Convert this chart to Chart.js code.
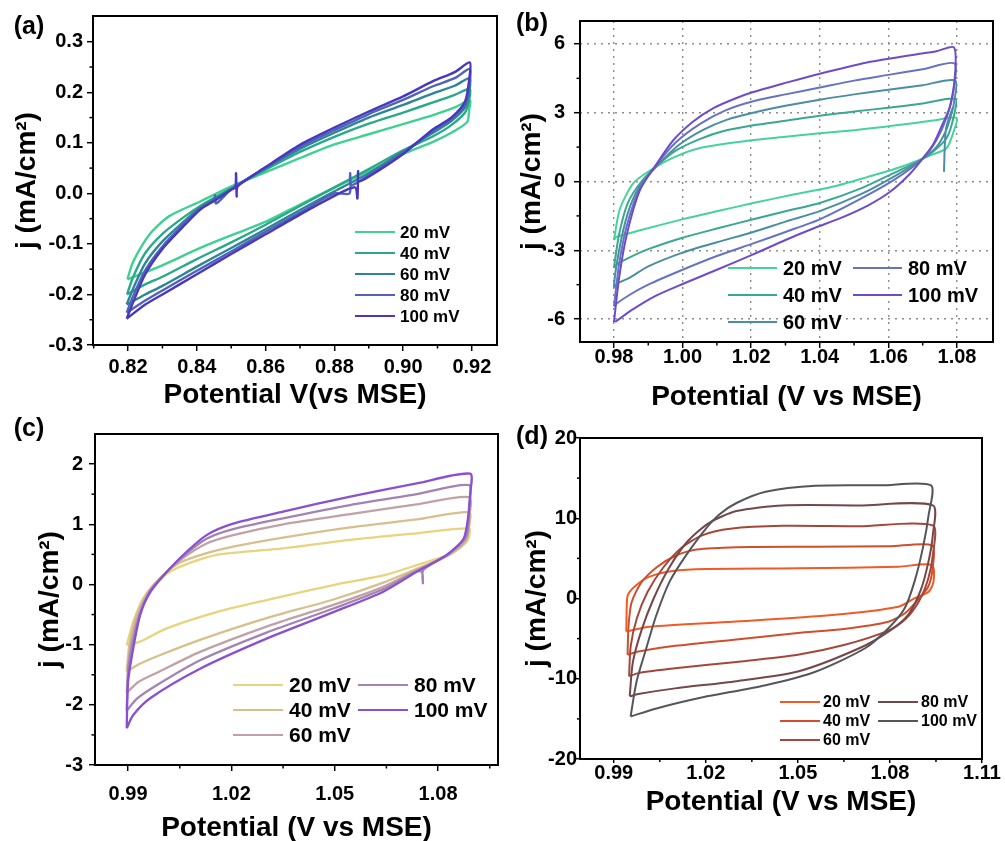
<!DOCTYPE html>
<html>
<head>
<meta charset="utf-8">
<script src="https://cdn.jsdelivr.net/npm/chart.js@4.4.1/dist/chart.umd.min.js"></script>
<style>
html, body { margin: 0; padding: 0; background: #fff; overflow: hidden; }
#wrap { position: relative; width: 1005px; height: 841px; overflow: hidden; }
#wrap canvas { position: absolute; }
</style>
</head>
<body>
<div id="wrap">
	<canvas id="cvA" width="500" height="415" style="left:0;top:0"></canvas>
	<canvas id="cvB" width="505" height="415" style="left:500px;top:0"></canvas>
	<canvas id="cvC" width="500" height="426" style="left:0;top:415px"></canvas>
	<canvas id="cvD" width="507" height="426" style="left:498px;top:415px"></canvas>
</div>
<script>
// scan rates shared by all four panels
const scanRates = ['20 mV', '40 mV', '60 mV', '80 mV', '100 mV'];

// ---- panel (a): [potential V, j mA/cm2] ----
const cvA20 = [[0.8198,-0.170],[0.8215,-0.135],[0.8264,-0.080],[0.8320,-0.045],[0.8410,-0.016],[0.8500,0.014],[0.8604,0.043],[0.8700,0.070],[0.8796,0.096],[0.8900,0.117],[0.8990,0.135],[0.9087,0.155],[0.9150,0.170],[0.9194,0.184],[0.9192,0.165],[0.9186,0.141],[0.9140,0.120],[0.9087,0.102],[0.9000,0.078],[0.8940,0.057],[0.8796,0.010],[0.8700,-0.022],[0.8604,-0.055],[0.8500,-0.083],[0.8410,-0.108],[0.8284,-0.147],[0.8198,-0.170]];
const cvA40 = [[0.8197,-0.200],[0.8215,-0.165],[0.8250,-0.118],[0.8300,-0.080],[0.8360,-0.048],[0.8410,-0.025],[0.8500,0.010],[0.8600,0.047],[0.8700,0.082],[0.8800,0.112],[0.8900,0.138],[0.9000,0.160],[0.9087,0.180],[0.9150,0.195],[0.9194,0.207],[0.9192,0.185],[0.9180,0.160],[0.9140,0.135],[0.9087,0.113],[0.9000,0.085],[0.8900,0.048],[0.8800,0.012],[0.8700,-0.025],[0.8600,-0.062],[0.8500,-0.097],[0.8400,-0.130],[0.8300,-0.165],[0.8250,-0.180],[0.8197,-0.200]];
const cvA60 = [[0.8196,-0.220],[0.8215,-0.188],[0.8250,-0.138],[0.8300,-0.095],[0.8360,-0.057],[0.8410,-0.028],[0.8500,0.009],[0.8600,0.050],[0.8700,0.088],[0.8800,0.120],[0.8900,0.150],[0.9000,0.175],[0.9087,0.198],[0.9150,0.213],[0.9194,0.228],[0.9192,0.200],[0.9180,0.170],[0.9140,0.143],[0.9087,0.120],[0.9000,0.083],[0.8900,0.040],[0.8800,0.004],[0.8700,-0.033],[0.8600,-0.071],[0.8500,-0.108],[0.8400,-0.145],[0.8300,-0.183],[0.8250,-0.200],[0.8196,-0.220]];
const cvA80 = [[0.8196,-0.236],[0.8215,-0.203],[0.8250,-0.152],[0.8300,-0.105],[0.8360,-0.062],[0.8410,-0.030],[0.8450,-0.014],[0.8453,-0.004],[0.8456,-0.020],[0.8500,0.008],[0.8600,0.051],[0.8700,0.092],[0.8800,0.125],[0.8900,0.157],[0.9000,0.185],[0.9087,0.212],[0.9150,0.228],[0.9194,0.246],[0.9192,0.212],[0.9180,0.176],[0.9140,0.147],[0.9087,0.124],[0.9000,0.080],[0.8900,0.036],[0.8848,0.016],[0.8846,0.040],[0.8844,0.000],[0.8800,0.000],[0.8700,-0.038],[0.8600,-0.076],[0.8500,-0.115],[0.8400,-0.153],[0.8300,-0.192],[0.8250,-0.212],[0.8196,-0.236]];
const cvA100 = [[0.8196,-0.248],[0.8215,-0.215],[0.8250,-0.160],[0.8300,-0.110],[0.8360,-0.066],[0.8410,-0.032],[0.8450,-0.015],[0.8500,0.007],[0.8512,0.012],[0.8514,0.040],[0.8516,-0.006],[0.8519,0.014],[0.8600,0.052],[0.8700,0.096],[0.8800,0.130],[0.8900,0.162],[0.9000,0.192],[0.9087,0.222],[0.9150,0.240],[0.9194,0.259],[0.9192,0.225],[0.9180,0.182],[0.9140,0.150],[0.9087,0.127],[0.9000,0.078],[0.8900,0.033],[0.8871,0.024],[0.8869,0.044],[0.8867,-0.010],[0.8860,0.012],[0.8800,-0.005],[0.8700,-0.042],[0.8600,-0.081],[0.8500,-0.120],[0.8400,-0.160],[0.8300,-0.200],[0.8250,-0.220],[0.8196,-0.248]];
const aXTicks = [0.82, 0.84, 0.86, 0.88, 0.90, 0.92];
const aXMinor = [0.81, 0.83, 0.85, 0.87, 0.89, 0.91];
const aYTicks = [-0.3, -0.2, -0.1, 0, 0.1, 0.2, 0.3];
const aYMinor = [-0.25, -0.15, -0.05, 0.05, 0.15, 0.25];

// ---- panel (b) ----
const cvB20 = [[0.9800,-2.55],[0.9817,-1.21],[0.9856,-0.08],[0.9905,0.48],[0.9973,1.04],[1.0051,1.46],[1.0206,1.81],[1.0300,1.95],[1.0400,2.10],[1.0500,2.24],[1.0585,2.38],[1.0660,2.52],[1.0730,2.66],[1.0799,2.77],[1.0790,2.17],[1.0770,1.46],[1.0730,1.18],[1.0634,0.62],[1.0540,0.20],[1.0440,-0.22],[1.0320,-0.58],[1.0206,-0.94],[1.0100,-1.30],[1.0002,-1.64],[0.9876,-2.13],[0.9808,-2.41],[0.9800,-2.55]];
const cvB40 = [[0.9800,-3.75],[0.9815,-2.30],[0.9840,-0.95],[0.9880,0.00],[0.9930,0.75],[0.9980,1.35],[1.0050,1.85],[1.0120,2.20],[1.0206,2.45],[1.0300,2.65],[1.0400,2.87],[1.0500,3.05],[1.0600,3.22],[1.0700,3.40],[1.0795,3.60],[1.0790,2.80],[1.0770,1.90],[1.0730,1.30],[1.0690,0.90],[1.0620,0.40],[1.0520,-0.30],[1.0400,-0.94],[1.0300,-1.30],[1.0206,-1.65],[1.0100,-2.05],[1.0000,-2.45],[0.9900,-2.95],[0.9840,-3.35],[0.9810,-3.60],[0.9800,-3.75]];
const cvB60 = [[1.0762,0.42],[1.0768,2.30],[1.0790,3.30],[1.0770,2.30],[1.0740,1.50],[1.0695,0.95],[1.0620,0.25],[1.0520,-0.55],[1.0400,-1.29],[1.0300,-1.75],[1.0206,-2.20],[1.0100,-2.65],[1.0000,-3.10],[0.9900,-3.70],[0.9845,-4.20],[0.9810,-4.45],[0.9800,-4.60],[0.9815,-3.00],[0.9840,-1.40],[0.9875,-0.20],[0.9930,0.75],[0.9990,1.60],[1.0060,2.25],[1.0130,2.70],[1.0206,3.00],[1.0300,3.30],[1.0400,3.57],[1.0500,3.80],[1.0600,4.00],[1.0700,4.20],[1.0795,4.40],[1.0790,3.30]];
const cvB80 = [[0.9800,-5.45],[0.9815,-3.60],[0.9838,-1.90],[0.9875,-0.30],[0.9925,0.75],[0.9980,1.70],[1.0050,2.50],[1.0125,3.10],[1.0206,3.50],[1.0300,3.80],[1.0400,4.10],[1.0500,4.40],[1.0600,4.65],[1.0700,4.90],[1.0793,5.15],[1.0790,4.00],[1.0770,2.80],[1.0740,1.80],[1.0700,1.00],[1.0620,0.10],[1.0520,-0.75],[1.0400,-1.65],[1.0300,-2.20],[1.0206,-2.70],[1.0100,-3.25],[1.0000,-3.85],[0.9900,-4.50],[0.9845,-4.95],[0.9810,-5.30],[0.9800,-5.45]];
const cvB100 = [[0.9800,-6.13],[0.9815,-4.20],[0.9837,-2.34],[0.9876,-0.37],[0.9924,0.76],[0.9973,1.80],[1.0031,2.62],[1.0090,3.20],[1.0150,3.60],[1.0206,3.90],[1.0300,4.30],[1.0380,4.62],[1.0460,4.92],[1.0537,5.19],[1.0620,5.40],[1.0680,5.54],[1.0740,5.68],[1.0791,5.85],[1.0795,4.80],[1.0780,3.29],[1.0755,2.40],[1.0730,1.60],[1.0702,1.04],[1.0663,0.34],[1.0605,-0.45],[1.0540,-1.05],[1.0460,-1.60],[1.0381,-2.05],[1.0300,-2.55],[1.0206,-3.18],[1.0100,-3.85],[1.0002,-4.46],[0.9920,-5.00],[0.9856,-5.57],[0.9803,-6.13]];
const bXTicks = [0.98, 1.00, 1.02, 1.04, 1.06, 1.08];
const bXMinor = [0.99, 1.01, 1.03, 1.05, 1.07];
const bYTicks = [-6, -3, 0, 3, 6];
const bYMinor = [-4.5, -1.5, 1.5, 4.5];

// ---- panel (c) ----
const cvC20 = [[0.9896,-1.01],[0.9915,-0.62],[0.9944,-0.23],[0.9983,0.04],[1.0041,0.27],[1.0157,0.49],[1.0350,0.60],[1.0545,0.74],[1.0738,0.85],[1.0890,0.93],[1.0890,0.80],[1.0883,0.71],[1.0835,0.51],[1.0738,0.32],[1.0641,0.15],[1.0496,-0.01],[1.0302,-0.26],[1.0157,-0.46],[1.0012,-0.73],[0.9935,-0.95],[0.9896,-1.01]];
const cvC40 = [[0.9896,-1.45],[0.9905,-0.95],[0.9925,-0.50],[0.9955,-0.15],[0.9995,0.12],[1.0050,0.36],[1.0128,0.52],[1.0205,0.63],[1.0350,0.78],[1.0545,0.95],[1.0738,1.08],[1.0890,1.20],[1.0890,0.95],[1.0880,0.70],[1.0830,0.48],[1.0738,0.26],[1.0641,0.03],[1.0496,-0.25],[1.0302,-0.56],[1.0109,-0.92],[0.9990,-1.18],[0.9930,-1.33],[0.9896,-1.45]];
const cvC60 = [[0.9896,-1.80],[0.9903,-1.20],[0.9922,-0.65],[0.9955,-0.18],[0.9998,0.13],[1.0055,0.42],[1.0128,0.68],[1.0205,0.82],[1.0350,1.00],[1.0545,1.17],[1.0738,1.33],[1.0890,1.45],[1.0890,1.10],[1.0880,0.75],[1.0828,0.49],[1.0738,0.24],[1.0641,-0.04],[1.0496,-0.34],[1.0302,-0.70],[1.0109,-1.12],[0.9990,-1.45],[0.9930,-1.62],[0.9896,-1.80]];
const cvC80 = [[0.9896,-2.10],[0.9901,-1.40],[0.9918,-0.85],[0.9940,-0.40],[0.9966,-0.12],[1.0003,0.15],[1.0060,0.47],[1.0128,0.76],[1.0205,0.92],[1.0350,1.10],[1.0545,1.32],[1.0738,1.50],[1.0890,1.65],[1.0890,1.30],[1.0882,0.80],[1.0826,0.49],[1.0757,0.24],[1.0756,0.02],[1.0754,0.20],[1.0738,0.22],[1.0641,-0.08],[1.0496,-0.40],[1.0302,-0.80],[1.0109,-1.26],[0.9990,-1.65],[0.9925,-1.90],[0.9896,-2.10]];
const cvC100 = [[0.9896,-2.39],[0.9900,-1.62],[0.9915,-1.06],[0.9935,-0.51],[0.9964,-0.12],[1.0003,0.15],[1.0060,0.49],[1.0128,0.82],[1.0205,1.01],[1.0350,1.21],[1.0545,1.46],[1.0738,1.68],[1.0893,1.84],[1.0893,1.50],[1.0888,1.15],[1.0874,0.76],[1.0825,0.49],[1.0738,0.21],[1.0641,-0.12],[1.0496,-0.46],[1.0302,-0.90],[1.0109,-1.40],[0.9964,-1.89],[0.9915,-2.17],[0.9896,-2.39]];
const cXTicks = [0.99, 1.02, 1.05, 1.08];
const cXMinor = [1.005, 1.035, 1.065, 1.095];
const cYTicks = [-3, -2, -1, 0, 1, 2];
const cYMinor = [-2.5, -1.5, -0.5, 0.5, 1.5];

// ---- panel (d) ----
const cvD20 = [[0.9941,-4.10],[0.9942,-1.50],[0.9946,0.44],[0.9974,1.68],[1.0017,2.72],[1.0092,3.43],[1.0201,3.68],[1.0502,3.76],[1.0828,3.96],[1.0936,4.17],[1.0942,2.10],[1.0926,0.85],[1.0880,0.02],[1.0828,-1.02],[1.0612,-2.06],[1.0287,-2.89],[1.0017,-3.51],[0.9941,-4.10]];
const cvD40 = [[0.9945,-7.00],[0.9948,-3.50],[0.9958,-0.50],[0.9990,2.00],[1.0040,3.90],[1.0100,5.30],[1.0170,6.10],[1.0300,6.40],[1.0557,6.45],[1.0800,6.50],[1.0938,6.60],[1.0938,3.50],[1.0925,1.50],[1.0895,0.00],[1.0850,-1.80],[1.0795,-2.90],[1.0650,-3.80],[1.0500,-4.30],[1.0300,-5.10],[1.0100,-5.90],[0.9980,-6.60],[0.9945,-7.00]];
const cvD60 = [[0.9950,-9.70],[0.9955,-6.00],[0.9975,-2.50],[1.0010,0.80],[1.0060,3.80],[1.0120,6.30],[1.0190,7.90],[1.0280,8.70],[1.0450,9.05],[1.0700,9.00],[1.0940,9.10],[1.0940,5.50],[1.0925,2.50],[1.0895,-0.30],[1.0850,-2.60],[1.0795,-4.00],[1.0650,-5.80],[1.0500,-7.00],[1.0300,-7.90],[1.0100,-8.70],[0.9980,-9.30],[0.9950,-9.70]];
const cvD80 = [[0.9952,-12.20],[0.9962,-8.00],[0.9990,-4.00],[1.0030,0.00],[1.0080,3.80],[1.0140,7.10],[1.0210,9.40],[1.0300,10.90],[1.0450,11.60],[1.0700,11.60],[1.0940,11.60],[1.0940,8.00],[1.0925,4.50],[1.0900,1.00],[1.0860,-2.00],[1.0800,-4.00],[1.0700,-6.20],[1.0500,-9.10],[1.0300,-10.30],[1.0100,-11.20],[0.9980,-11.90],[0.9952,-12.20]];
const cvD100 = [[0.9955,-14.70],[0.9974,-10.40],[1.0006,-6.20],[1.0039,-2.06],[1.0082,2.10],[1.0136,5.40],[1.0201,8.75],[1.0245,10.50],[1.0300,11.90],[1.0395,13.30],[1.0557,14.05],[1.0773,14.10],[1.0934,14.10],[1.0926,10.40],[1.0907,6.25],[1.0880,2.10],[1.0848,-1.22],[1.0795,-3.71],[1.0719,-6.20],[1.0557,-9.12],[1.0395,-10.80],[1.0179,-12.40],[1.0039,-13.70],[0.9955,-14.70]];
const dXTicks = [0.99, 1.02, 1.05, 1.08, 1.11];
const dXMinor = [1.005, 1.035, 1.065, 1.095];
const dYTicks = [-20, -10, 0, 10, 20];
const dYMinor = [-15, -5, 5, 15];

const FONT = '"Liberation Sans", Arial, Helvetica, sans-serif';
Chart.defaults.font.family = FONT;
Chart.defaults.color = '#000';

// frame, minor ticks, panel tag and in-plot legend
const panelDeco = {
	id: 'panelDeco',
	afterDatasetsDraw(chart, args, o) {
		const { ctx, chartArea: a, scales } = chart;
		ctx.save();
		ctx.strokeStyle = '#000';
		ctx.lineWidth = 1.5;
		o.xMinor.forEach(v => {
			const px = scales.x.getPixelForValue(v);
			ctx.beginPath(); ctx.moveTo(px, a.bottom); ctx.lineTo(px, a.bottom + o.minorLen); ctx.stroke();
		});
		o.yMinor.forEach(v => {
			const py = scales.y.getPixelForValue(v);
			ctx.beginPath(); ctx.moveTo(a.left, py); ctx.lineTo(a.left - o.minorLen, py); ctx.stroke();
		});
		ctx.lineWidth = 2;
		ctx.strokeRect(a.left, a.top, a.right - a.left, a.bottom - a.top);

		ctx.fillStyle = '#000';
		ctx.textAlign = 'center';
		ctx.textBaseline = 'middle';
		ctx.font = 'bold 25px ' + FONT;
		ctx.fillText(o.tag, o.tagX, o.tagY);

		const lg = o.legend;
		ctx.font = 'bold ' + lg.size + 'px ' + FONT;
		ctx.textAlign = 'left';
		chart.data.datasets.forEach((ds, i) => {
			const col = Math.floor(i / lg.rows), row = i % lg.rows;
			const lx = lg.x + col * lg.colW, ly = lg.y + row * lg.rowH;
			ctx.strokeStyle = ds.borderColor;
			ctx.lineWidth = 2;
			ctx.beginPath(); ctx.moveTo(lx, ly); ctx.lineTo(lx + lg.line, ly); ctx.stroke();
			ctx.fillText(ds.label, lx + lg.line + lg.gap, ly + 1);
		});
		ctx.restore();
	}
};

function axis(min, max, ticks, digits, o) {
	return {
		type: 'linear', min, max,
		afterBuildTicks: s => { s.ticks = ticks.map(v => ({ value: v })); },
		afterFit: s => { if (s.isHorizontal()) s.height = o.size; else s.width = o.size; },
		ticks: { font: { size: 20, weight: 'bold' }, color: '#000', padding: o.pad, maxRotation: 0, callback: v => v.toFixed(digits) },
		grid: { display: true, drawOnChartArea: !!o.grid, color: '#8c8c8c', lineWidth: 1.4, drawTicks: true, tickLength: o.tl, tickColor: '#000', tickWidth: 1.5 },
		border: { display: false, dash: o.grid ? [2, 5] : [] },
		title: { display: true, text: o.title, color: '#000', font: { size: 28, weight: 'bold', lineHeight: 1 }, padding: { top: o.tpad, bottom: o.tpad } }
	};
}

function loops(sets, colors, width) {
	return sets.map((pts, i) => ({
		label: scanRates[i],
		data: pts.map(p => ({ x: p[0], y: p[1] })),
		showLine: true, fill: false,
		borderColor: colors[i], backgroundColor: colors[i],
		borderWidth: width, pointRadius: 0, tension: 0.25,
		order: sets.length - i
	}));
}

function makePanel(id, datasets, x, y, padding, deco) {
	return new Chart(document.getElementById(id), {
		type: 'scatter',
		data: { datasets },
		options: {
			responsive: false, animation: false,
			layout: { padding },
			scales: { x, y },
			plugins: { legend: { display: false }, tooltip: { enabled: false }, panelDeco: deco }
		},
		plugins: [panelDeco]
	});
}

makePanel('cvA',
	loops([cvA20, cvA40, cvA60, cvA80, cvA100], ['#3fd193', '#2aa98a', '#2e8596', '#4f63b8', '#4a37bf'], 2.4),
	axis(0.8098, 0.9273, aXTicks, 2, { size: 70, pad: 4, tl: 6, tpad: 6, title: 'Potential V(vs MSE)' }),
	axis(-0.3, 0.351, aYTicks, 1, { size: 93, pad: 4, tl: 6, tpad: 13, title: 'j (mA/cm²)' }),
	{ left: 0, top: 13, right: 3, bottom: 0 },
	{ xMinor: aXMinor, yMinor: aYMinor, minorLen: 3.5, tag: '(a)', tagX: 29, tagY: 27,
		legend: { x: 355, y: 232, rows: 5, rowH: 21, colW: 0, line: 40, gap: 5, size: 17 } });

makePanel('cvB',
	loops([cvB20, cvB40, cvB60, cvB80, cvB100], ['#45d39a', '#3aa791', '#4a8ea3', '#6673c2', '#6d4ccc'], 2),
	axis(0.9701, 1.0905, bXTicks, 2, { size: 73, pad: -3, tl: 6, tpad: 4, grid: true, title: 'Potential (V vs MSE)' }),
	axis(-7, 7, bYTicks, 0, { size: 80, pad: 9, tl: 6, tpad: 18, grid: true, title: 'j (mA/cm²)' }),
	{ left: 0, top: 12, right: 12, bottom: 0 },
	{ xMinor: bXMinor, yMinor: bYMinor, minorLen: 3.5, tag: '(b)', tagX: 32, tagY: 24,
		legend: { x: 228, y: 268, rows: 3, rowH: 27, colW: 125, line: 49, gap: 6, size: 20 } });

makePanel('cvC',
	loops([cvC20, cvC40, cvC60, cvC80, cvC100], ['#e6d47e', '#d6c08d', '#c0a2a6', '#a383b1', '#8a50d2'], 2.3),
	axis(0.9804, 1.0974, cXTicks, 2, { size: 76, pad: 11, tl: 6, tpad: -1, title: 'Potential (V vs MSE)' }),
	axis(-3, 2.5, cYTicks, 0, { size: 95, pad: 6, tl: 6, tpad: 36, title: 'j (mA/cm²)' }),
	{ left: 0, top: 19, right: 2, bottom: 0 },
	{ xMinor: cXMinor, yMinor: cYMinor, minorLen: 3.5, tag: '(c)', tagX: 29, tagY: 14,
		legend: { x: 233, y: 270, rows: 3, rowH: 25, colW: 125, line: 50, gap: 6, size: 21 } });

makePanel('cvD',
	loops([cvD20, cvD40, cvD60, cvD80, cvD100], ['#ef5a26', '#cf4e2c', '#a4473a', '#744748', '#55555b'], 2),
	axis(0.979, 1.11, dXTicks, 2, { size: 82, pad: -2, tl: 4, tpad: 25, title: 'Potential (V vs MSE)' }),
	axis(-20, 20, dYTicks, 0, { size: 82, pad: -1, tl: 4, tpad: 25, title: 'j (mA/cm²)' }),
	{ left: 0, top: 23, right: 23, bottom: 0 },
	{ xMinor: dXMinor, yMinor: dYMinor, minorLen: 3, tag: '(d)', tagX: 34, tagY: 22,
		legend: { x: 282, y: 287, rows: 3, rowH: 19, colW: 98, line: 40, gap: 3, size: 16 } });
</script>
</body>
</html>
